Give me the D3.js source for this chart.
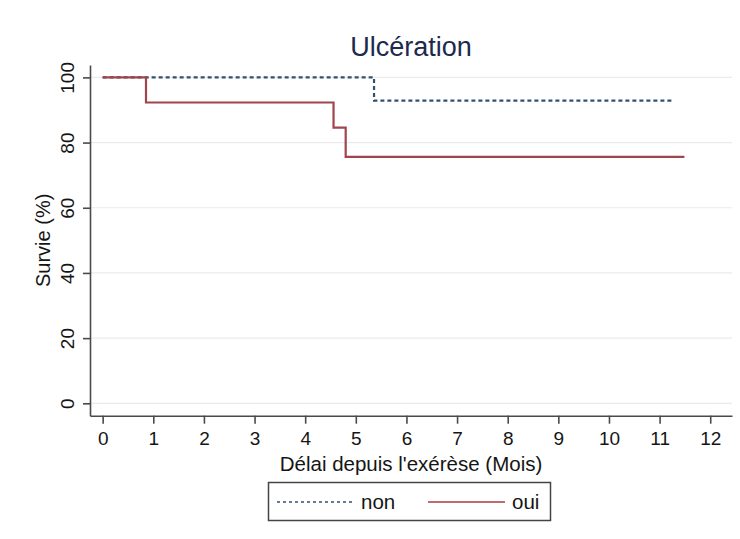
<!DOCTYPE html>
<html>
<head>
<meta charset="utf-8">
<script src="https://cdn.jsdelivr.net/npm/d3@7"></script>
<style>
  body { margin: 0; background: #fff; }
  text { font-family: "Liberation Sans", Arial, sans-serif; }
</style>
</head>
<body>
<div id="chart"></div>
<script>
// Kaplan-Meier steps
const timesNon = [0, 5.36, 11.26];
const survNon = [100, 92.86, 92.86];
const timesOui = [0, 0.856, 4.56, 4.80, 11.49];
const survOui = [100, 92.3, 84.6, 75.6, 75.6];
const xTicks = [0, 1, 2, 3, 4, 5, 6, 7, 8, 9, 10, 11, 12];
const yTicks = [0, 20, 40, 60, 80, 100];
const seriesNames = ['non', 'oui'];

document.addEventListener('DOMContentLoaded', function() {
  const W = 740, H = 539;
  const svg = d3.select('#chart').append('svg')
    .attr('width', W).attr('height', H);

  const x = d3.scaleLinear().domain([-0.25, 12.43]).range([90, 732]);
  const y = d3.scaleLinear().domain([-3.8, 103.8]).range([415.7, 65]);

  // gridlines
  svg.append('g').selectAll('line')
    .data(yTicks).enter().append('line')
    .attr('x1', x.range()[0]).attr('x2', x.range()[1])
    .attr('y1', d => y(d)).attr('y2', d => y(d))
    .attr('stroke', '#ebebeb').attr('stroke-width', 1.2);

  // axes
  const gx = svg.append('g')
    .attr('transform', `translate(0,${y.range()[0]})`)
    .call(d3.axisBottom(x).tickValues(xTicks).tickSize(8).tickSizeOuter(0).tickPadding(8));
  gx.selectAll('text').style('font-size', '19px').attr('fill', '#151515');

  const gy = svg.append('g')
    .attr('transform', `translate(${x.range()[0]},0)`)
    .call(d3.axisLeft(y).tickValues(yTicks).tickSize(7).tickSizeOuter(0));
  // vertical tick labels, Stata style
  gy.selectAll('.tick text')
    .style('font-size', '19px').attr('fill', '#151515')
    .attr('text-anchor', 'middle')
    .attr('transform', 'translate(-23,0) rotate(-90)')
    .attr('x', 0).attr('y', 0).attr('dy', '0.35em');

  [gx, gy].forEach(g => {
    g.selectAll('path,line').attr('stroke', '#4a4a4a').attr('stroke-width', 1.6);
  });

  const line = d3.line().curve(d3.curveStepAfter)
    .x(d => x(d[0])).y(d => y(d[1]));

  svg.append('path')
    .datum(d3.zip(timesNon, survNon))
    .attr('d', line)
    .attr('fill', 'none').attr('stroke', '#34506f')
    .attr('stroke-width', 2.2).attr('stroke-dasharray', '4,3');

  svg.append('path')
    .datum(d3.zip(timesOui, survOui))
    .attr('d', line)
    .attr('fill', 'none').attr('stroke', '#a0454d')
    .attr('stroke-width', 2.2);

  // title and axis titles
  const cx = (x.range()[0] + x.range()[1]) / 2;
  svg.append('text').attr('x', cx).attr('y', 56)
    .attr('text-anchor', 'middle').style('font-size', '27px')
    .attr('fill', '#1c2a4d').text('Ulcération');

  svg.append('text').attr('x', cx).attr('y', 471)
    .attr('text-anchor', 'middle').style('font-size', '20.5px')
    .attr('fill', '#151515').text("Délai depuis l'exérèse (Mois)");

  svg.append('text')
    .attr('transform', `translate(43,${(y.range()[0] + y.range()[1]) / 2}) rotate(-90)`)
    .attr('dy', '0.35em')
    .attr('text-anchor', 'middle').style('font-size', '20px')
    .attr('fill', '#151515').text('Survie (%)');

  // legend
  const lg = svg.append('g');
  lg.append('rect')
    .attr('x', 268.5).attr('y', 482.5).attr('width', 282).attr('height', 38)
    .attr('fill', '#fff').attr('stroke', '#444').attr('stroke-width', 1.5);
  const legendItems = [
    { name: seriesNames[0], x0: 277, x1: 353, tx: 361, color: '#34506f', dash: '3,3', w: 1.6 },
    { name: seriesNames[1], x0: 428, x1: 505, tx: 512, color: '#c06a72', dash: null, w: 1.8 }
  ];
  legendItems.forEach(it => {
    lg.append('line').attr('x1', it.x0).attr('x2', it.x1)
      .attr('y1', 502).attr('y2', 502)
      .attr('stroke', it.color).attr('stroke-width', it.w)
      .attr('stroke-dasharray', it.dash);
    lg.append('text').attr('x', it.tx).attr('y', 509)
      .style('font-size', '20.5px').attr('fill', '#151515').text(it.name);
  });
});
</script>
</body>
</html>
